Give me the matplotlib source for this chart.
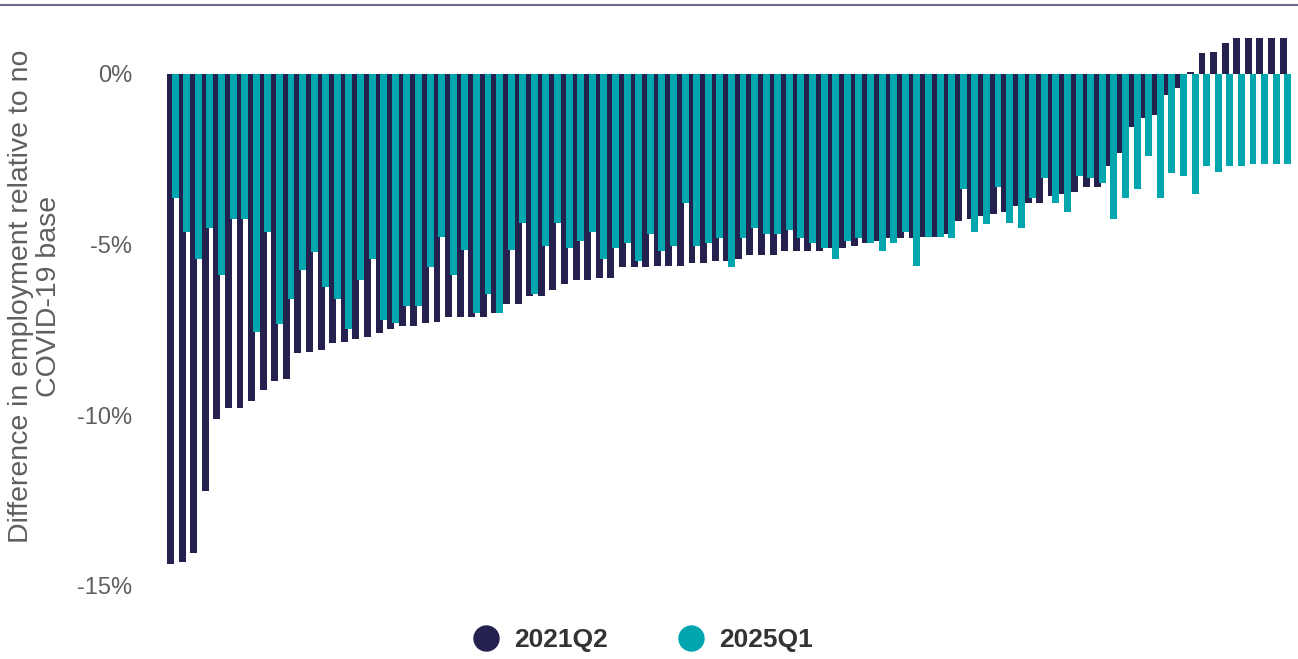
import matplotlib
matplotlib.use("Agg")
import matplotlib.pyplot as plt
from matplotlib.lines import Line2D
import numpy as np

plt.rcParams['font.family'] = ['Liberation Sans', 'DejaVu Sans']

# Difference in employment relative to no COVID-19 base (%), one entry per category
series_2021q2 = [
    -14.36, -14.29, -14.03, -12.23, -10.10, -9.79, -9.79, -9.58, -9.25, -8.99,
    -8.93, -8.19, -8.14, -8.08, -7.88, -7.85,
    -7.78, -7.72, -7.58, -7.46, -7.37, -7.37, -7.31, -7.26, -7.11, -7.11,
    -7.11, -7.11, -6.99, -6.73, -6.73, -6.52,
    -6.52, -6.32, -6.14, -6.05, -6.05, -5.99, -5.99, -5.67, -5.67, -5.67,
    -5.62, -5.62, -5.62, -5.53, -5.53, -5.47,
    -5.47, -5.41, -5.29, -5.29, -5.29, -5.20, -5.20, -5.20, -5.20, -5.09,
    -5.09, -5.03, -4.94, -4.88, -4.82, -4.82,
    -4.82, -4.77, -4.77, -4.68, -4.30, -4.24, -4.15, -4.09, -4.03, -3.87,
    -3.77, -3.77, -3.57, -3.51, -3.45, -3.30,
    -3.30, -2.71, -2.33, -1.54, -1.28, -1.19, -0.61, -0.40, 0.07, 0.60,
    0.65, 0.92, 1.04, 1.04, 1.04, 1.04, 1.04,
]
series_2025q1 = [
    -3.62, -4.64, -5.43, -4.51, -5.90, -4.25, -4.25, -7.55, -4.64, -7.34,
    -6.60, -5.75, -5.23, -6.23, -6.60, -7.47,
    -6.04, -5.41, -7.20, -7.31, -6.79, -6.79, -5.67, -4.77, -5.88, -5.15,
    -6.99, -6.46, -6.99, -5.15, -4.36, -6.46,
    -5.03, -4.36, -5.09, -4.88, -4.62, -5.41, -5.09, -4.94, -5.47, -4.68,
    -5.20, -5.03, -3.77, -5.03, -4.94, -4.82,
    -5.67, -4.82, -4.50, -4.68, -4.68, -4.56, -4.82, -4.94, -5.09, -5.41,
    -4.88, -4.82, -4.94, -5.20, -4.94, -4.62,
    -5.62, -4.77, -4.77, -4.82, -3.36, -4.62, -4.41, -3.30, -4.36, -4.50,
    -3.62, -3.04, -3.77, -4.03, -2.98, -3.04,
    -3.19, -4.24, -3.62, -3.36, -2.39, -3.62, -2.91, -2.98, -3.51, -2.71,
    -2.86, -2.71, -2.71, -2.65, -2.65, -2.65, -2.65,
]
series_names = ["2021Q2", "2025Q1"]
ytick_values = [0, -5, -10, -15]
ytick_labels = ["0%", "-5%", "-10%", "-15%"]
y_title = "Difference in employment relative to no\nCOVID-19 base"

NAVY = "#24214F"
TEAL = "#00A6AD"
TXT = "#5f5f5f"

W, H = 1298, 659
fig = plt.figure(figsize=(W / 100, H / 100), dpi=100)
ax = fig.add_axes([165.8 / W, (H - 606.4) / H, 1126.6 / W, 573.4 / H])

x = np.arange(len(series_2021q2))
ax.bar(x - 0.2, series_2021q2, width=0.6, color=NAVY, linewidth=0, zorder=2)
ax.bar(x + 0.2, series_2025q1, width=0.6, color=TEAL, linewidth=0, zorder=3)

ax.set_xlim(-0.6, len(x) - 0.4)
ax.set_ylim(-15.6, 1.2)
ax.set_xticks([])
ax.set_yticks(ytick_values)
ax.set_yticklabels(ytick_labels)
ax.tick_params(axis='y', length=0, pad=24, labelsize=17, labelcolor=TXT)
for s in ax.spines.values():
    s.set_visible(False)

fig.text(35 / W, (H - 296) / H, y_title, rotation=90, ha='center', va='center',
         multialignment='center', fontsize=20.5, color=TXT, linespacing=1.1)

# top rule
fig.add_artist(Line2D([0, 1], [1 - 5 / H, 1 - 5 / H], transform=fig.transFigure,
                      color="#6b6a8c", linewidth=1.5))

handles = [Line2D([], [], linestyle='none', marker='o', markersize=19,
                  markerfacecolor=c, markeredgewidth=0) for c in (NAVY, TEAL)]
leg = fig.legend(handles, series_names, loc='center', bbox_to_anchor=(643 / W, 19 / H),
                 ncol=2, frameon=False, handlelength=1.0, handletextpad=0.57,
                 columnspacing=2.65, borderpad=0,
                 prop={'size': 19, 'weight': 'bold'})
for t in leg.get_texts():
    t.set_color("#333333")

fig.savefig("out.png", dpi=100)
